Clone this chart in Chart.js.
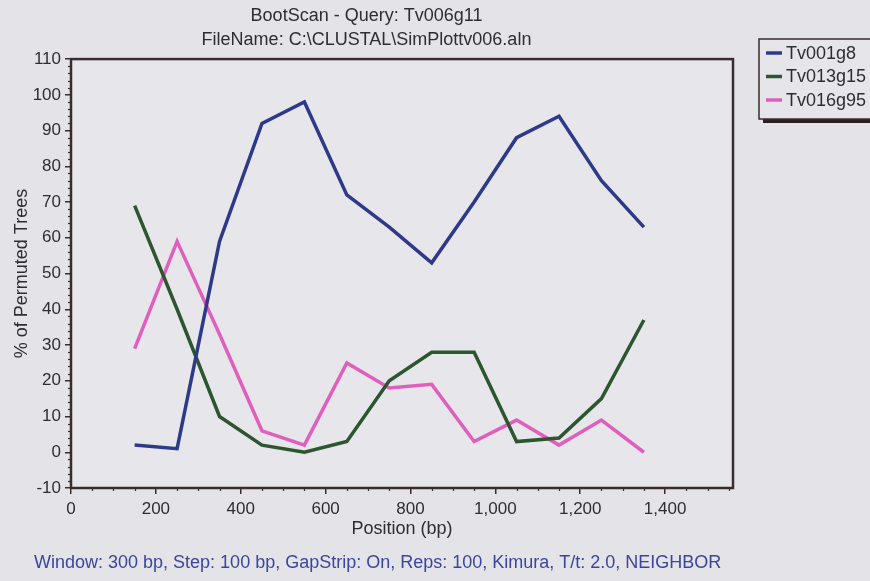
<!DOCTYPE html>
<html>
<head>
<meta charset="utf-8">
<title>BootScan - Query: Tv006g11</title>
<script src="https://cdn.jsdelivr.net/npm/chart.js@4.4.1/dist/chart.umd.min.js"></script>
<style>
  html, body { margin: 0; padding: 0; background: #e4e4e8; }
  #wrap { width: 870px; height: 581px; position: relative; }
</style>
</head>
<body>
<div id="wrap"><canvas id="c" width="870" height="581"></canvas></div>
<script>
// Window centres along the alignment (bp)
const positions = [150, 250, 350, 450, 550, 650, 750, 850, 950, 1050, 1150, 1250, 1350];

// % of permuted trees supporting each reference sequence
const tv001g8  = [2, 1, 59, 92, 98, 72, 63, 53, 70, 88, 94, 76, 63];
const tv013g15 = [69, 40, 10, 2, 0, 3, 20, 28, 28, 3, 4, 15, 37];
const tv016g95 = [29, 59, 33, 6, 2, 25, 18, 19, 3, 9, 2, 9, 0];

const seriesNames = ['Tv001g8', 'Tv013g15', 'Tv016g95'];
const seriesColors = ['#2e3a88', '#2c5530', '#df5fbd'];

// Labelled ticks
const xTickValues = [0, 200, 400, 600, 800, 1000, 1200, 1400];
const yTickValues = [-10, 0, 10, 20, 30, 40, 50, 60, 70, 80, 90, 100, 110];

const titleLines = ['BootScan - Query: Tv006g11', 'FileName: C:\\CLUSTAL\\SimPlottv006.aln'];
const footerText = 'Window: 300 bp, Step: 100 bp, GapStrip: On, Reps: 100, Kimura, T/t: 2.0, NEIGHBOR';
const xTitle = 'Position (bp)';
const yTitle = '% of Permuted Trees';

const FONT = "'Liberation Sans', Arial, sans-serif";
const FRAME = '#3a2c2c';
const TEXT = '#2e2e2e';

function pts(ys) { return positions.map((x, i) => ({ x: x, y: ys[i] })); }

// Background, plot frame and minor tick marks
const framePlugin = {
  id: 'frame',
  beforeDraw(chart) {
    const { ctx, chartArea: a } = chart;
    ctx.save();
    ctx.fillStyle = '#e4e4e8';
    ctx.fillRect(0, 0, chart.width, chart.height);
    ctx.fillStyle = '#e7e7eb';
    ctx.fillRect(a.left, a.top, a.right - a.left, a.bottom - a.top);
    ctx.restore();
  },
  afterDraw(chart) {
    const { ctx, chartArea: a, scales } = chart;
    ctx.save();
    ctx.strokeStyle = FRAME;
    ctx.lineWidth = 1.2;
    // minor ticks on x every 50 bp
    const xs = scales.x;
    for (let v = 0; v <= xs.max; v += 50) {
      if (v % 200 === 0) continue;
      const px = Math.round(xs.getPixelForValue(v)) + 0.5;
      ctx.beginPath(); ctx.moveTo(px, a.bottom); ctx.lineTo(px, a.bottom + 3); ctx.stroke();
    }
    // minor ticks on y every 2 %
    const ys = scales.y;
    for (let v = ys.min; v <= ys.max; v += 2) {
      if (v % 10 === 0) continue;
      const py = Math.round(ys.getPixelForValue(v)) + 0.5;
      ctx.beginPath(); ctx.moveTo(a.left - 3, py); ctx.lineTo(a.left, py); ctx.stroke();
    }
    // frame
    ctx.lineWidth = 2.5;
    ctx.strokeRect(a.left, a.top, a.right - a.left, a.bottom - a.top);
    ctx.restore();
  }
};

// Boxed legend with drop shadow, plus footer line with run settings
const legendPlugin = {
  id: 'boxLegend',
  afterDraw(chart) {
    const { ctx } = chart;
    const bx = 759, by = 39, bw = 130, bh = 80;
    ctx.save();
    ctx.fillStyle = '#2a2020';
    ctx.fillRect(bx + 4, by + 4, bw, bh);
    ctx.fillStyle = '#e6e6ea';
    ctx.fillRect(bx, by, bw, bh);
    ctx.strokeStyle = FRAME;
    ctx.lineWidth = 1.5;
    ctx.strokeRect(bx, by, bw, bh);
    ctx.font = '18px ' + FONT;
    ctx.textBaseline = 'middle';
    ctx.textAlign = 'left';
    chart.data.datasets.forEach((ds, i) => {
      const y = by + 14 + i * 23.5;
      ctx.strokeStyle = ds.borderColor;
      ctx.lineWidth = 3.5;
      ctx.beginPath(); ctx.moveTo(766, y); ctx.lineTo(782, y); ctx.stroke();
      ctx.fillStyle = TEXT;
      ctx.fillText(ds.label, 786, y + 1);
    });
    ctx.font = '18px ' + FONT;
    ctx.fillStyle = '#3a469e';
    ctx.textBaseline = 'middle';
    ctx.fillText(footerText, 34, 563);
    ctx.restore();
  }
};

new Chart(document.getElementById('c'), {
  type: 'line',
  data: {
    datasets: [
      { label: seriesNames[0], data: pts(tv001g8), borderColor: seriesColors[0] },
      { label: seriesNames[1], data: pts(tv013g15), borderColor: seriesColors[1] },
      { label: seriesNames[2], data: pts(tv016g95), borderColor: seriesColors[2] }
    ]
  },
  options: {
    responsive: false,
    animation: false,
    devicePixelRatio: 1,
    layout: { padding: { left: 0, right: 137, top: 0, bottom: 0 } },
    elements: {
      line: { borderWidth: 3.5, tension: 0, fill: false },
      point: { radius: 0, hoverRadius: 0 }
    },
    plugins: {
      legend: { display: false },
      tooltip: { enabled: false },
      title: {
        display: true,
        text: titleLines,
        color: TEXT,
        font: { family: FONT, size: 18, weight: 'normal', lineHeight: 1.28 },
        padding: { top: 5, bottom: 8 }
      }
    },
    scales: {
      x: {
        type: 'linear',
        min: 0,
        max: 1560,
        afterFit(s) { s.height = 93; },
        afterBuildTicks(s) { s.ticks = xTickValues.map(v => ({ value: v })); },
        border: { display: false },
        grid: { drawOnChartArea: false, drawTicks: true, tickLength: 6, color: FRAME, lineWidth: 1.5 },
        ticks: {
          padding: 5,
          color: TEXT,
          font: { family: FONT, size: 17 },
          maxRotation: 0,
          autoSkip: false,
          callback: (v) => Number(v).toLocaleString('en-US')
        },
        title: {
          display: true,
          text: xTitle,
          color: TEXT,
          font: { family: FONT, size: 18 },
          padding: { top: 0, bottom: 41 }
        }
      },
      y: {
        type: 'linear',
        min: -10,
        max: 110,
        afterFit(s) { s.width = 71; },
        afterBuildTicks(s) { s.ticks = yTickValues.map(v => ({ value: v })); },
        border: { display: false },
        grid: { drawOnChartArea: false, drawTicks: true, tickLength: 6, color: FRAME, lineWidth: 1.5 },
        ticks: {
          padding: 4,
          color: TEXT,
          autoSkip: false,
          font: { family: FONT, size: 17 }
        },
        title: {
          display: true,
          text: yTitle,
          color: TEXT,
          font: { family: FONT, size: 18 },
          padding: { top: 11, bottom: 0 }
        }
      }
    }
  },
  plugins: [framePlugin, legendPlugin]
});
</script>
</body>
</html>
